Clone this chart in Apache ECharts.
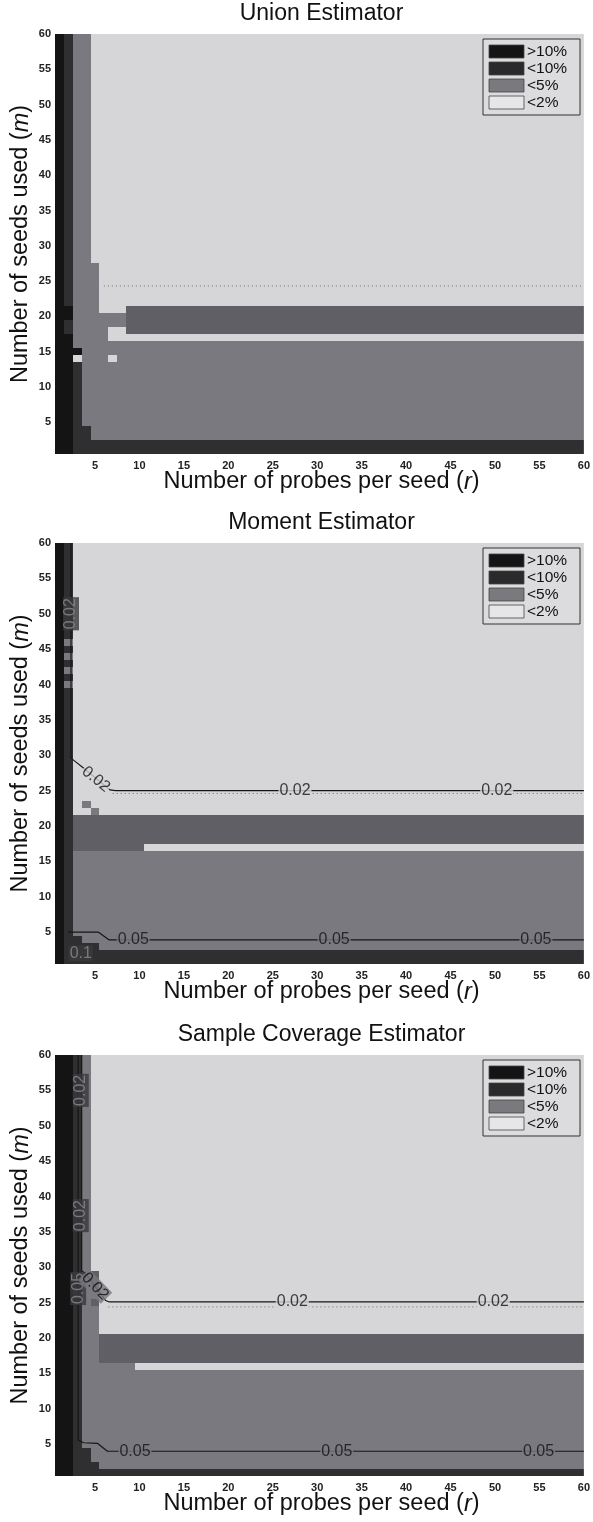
<!DOCTYPE html>
<html><head><meta charset="utf-8">
<script src="https://cdn.jsdelivr.net/npm/echarts@6/dist/echarts.min.js"></script>
<style>html,body{margin:0;padding:0;background:#fff}#c{width:593px;height:1522px}</style>
</head><body><div id="c"></div>
<script>
// ---------------- data ----------------
const titles = ['Union Estimator', 'Moment Estimator', 'Sample Coverage Estimator'];
const xAxisName = 'Number of probes per seed ({i|r})';
const yAxisName = 'Number of seeds used ({i|m})';
const tickValues = [5, 10, 15, 20, 25, 30, 35, 40, 45, 50, 55, 60];
const legendLabels = ['>10%', '<10%', '<5%', '<2%'];
const legendLevels = [4, 3, 1, 0];

// error level per cell: 0 <2%, 1 <5%, 2 <5% (darker band), 3 <10%, 4 >10%
// blocks: [m from, m to, runs "level x count" for r = 1..60]
const unionBlocks = [
  [60, 28, '4x1 3x1 1x2 0x56'],
  [27, 22, '4x1 3x1 1x3 0x55'],
  [21, 21, '4x2 1x3 0x3 2x52'],
  [20, 20, '4x2 1x6 2x52'],
  [19, 19, '4x1 3x1 1x6 2x52'],
  [18, 18, '4x1 3x1 1x4 0x2 2x52'],
  [17, 17, '4x2 1x4 0x54'],
  [16, 16, '4x2 1x58'],
  [15, 15, '4x3 1x57'],
  [14, 14, '4x2 0x1 1x3 0x1 1x53'],
  [13, 5, '4x2 3x1 1x57'],
  [4, 3, '4x2 3x2 1x56'],
  [2, 1, '4x2 3x58']
];
const momentBlocks = [
  [60, 47, '4x1 3x1 0x58'],
  [46, 46, '4x1 1x1 0x58'],
  [45, 45, '4x1 3x1 0x58'],
  [44, 44, '4x1 1x1 0x58'],
  [43, 43, '4x1 3x1 0x58'],
  [42, 42, '4x1 1x1 0x58'],
  [41, 41, '4x1 3x1 0x58'],
  [40, 40, '4x1 1x1 0x58'],
  [39, 24, '4x1 3x1 0x58'],
  [23, 23, '4x1 3x1 0x1 1x1 0x56'],
  [22, 22, '4x1 3x1 0x2 1x1 0x55'],
  [21, 18, '4x1 3x1 2x58'],
  [17, 17, '4x1 3x1 2x8 0x50'],
  [16, 5, '4x1 3x1 1x58'],
  [4, 4, '4x1 3x2 1x57'],
  [3, 3, '4x1 3x4 1x55'],
  [2, 1, '4x1 3x59']
];
const coverageBlocks = [
  [60, 30, '4x2 3x1 1x1 0x56'],
  [29, 28, '4x2 3x1 1x1 2x1 0x55'],
  [27, 26, '4x2 3x1 1x2 0x55'],
  [25, 25, '4x2 3x1 1x1 2x1 0x55'],
  [24, 21, '4x2 3x1 1x2 0x55'],
  [20, 17, '4x2 3x1 1x2 2x55'],
  [16, 16, '4x2 3x1 1x6 0x51'],
  [15, 5, '4x2 3x1 1x57'],
  [4, 3, '4x2 3x2 1x56'],
  [2, 2, '4x2 3x3 1x55'],
  [1, 1, '4x2 3x58']
];

// contour paths [r, m]
const momentContour002 = [[2.3, 60], [2.3, 29.6], [2.9, 29.0], [3.6, 28.3], [6.7, 25.1], [7.3, 25.0], [60, 25.0]];
const momentContour005 = [[2.0, 5.0], [5.4, 5.0], [6.6, 3.9], [60, 3.9]];
const coverageContour002 = [[3.5, 60], [3.5, 29.5], [4.0, 29.0], [6.2, 25.3], [6.6, 25.1], [60, 25.1]];
const coverageContour005 = [[3.1, 60], [3.1, 5.6], [3.7, 5.2], [5.3, 5.1], [6.4, 4.0], [60, 4.0]];

// dotted lines [r, m]
const unionDotted = [[6.0, 24.3], [60, 24.3]];
const momentDotted = [[7.0, 24.6], [60, 24.6]];
const coverageDotted = [[6.5, 24.4], [60, 24.4]];

// contour labels [r, m, text, angle]
const unionLabels = [];
const momentLabels = [
  [2.3, 50, '0.02', 90], [5.1, 26.6, '0.02', -39], [27.5, 25.0, '0.02', 0], [50.2, 25.0, '0.02', 0],
  [9.3, 3.9, '0.05', 0], [31.9, 3.9, '0.05', 0], [54.6, 3.9, '0.05', 0], [3.4, 2.0, '0.1', 0]
];
const coverageLabels = [
  [3.4, 55, '0.02', 90], [3.4, 37.3, '0.02', 90], [3.1, 27.0, '0.05', 90], [5.0, 27.3, '0.02', -46],
  [27.2, 25.1, '0.02', 0], [49.8, 25.1, '0.02', 0],
  [9.5, 4.0, '0.05', 0], [32.2, 4.0, '0.05', 0], [54.9, 4.0, '0.05', 0]
];

// ---------------- layout / style ----------------
const FONT = "'Liberation Sans', Arial, Helvetica, sans-serif";
const LEVEL_COLORS = ['#d6d6d8', '#79797f', '#5f5f65', '#2f2f31', '#141414'];
const LEGEND_COLORS = ['#e6e6e8', '#7a7a7e', '#5f5f65', '#2a2a2c', '#141414'];
const PANELS = [
  { top: 34, height: 420 },
  { top: 543, height: 421 },
  { top: 1055, height: 421 }
];
const LEFT = 55, WIDTH = 533;

const panelBlocks = [unionBlocks, momentBlocks, coverageBlocks];
const panelContours = [[], [momentContour002, momentContour005], [coverageContour002, coverageContour005]];
const panelDotted = [unionDotted, momentDotted, coverageDotted];
const panelLabels = [unionLabels, momentLabels, coverageLabels];

function expandRuns(blocks) {
  const runs = [];
  blocks.forEach(([mFrom, mTo, spec]) => {
    for (let m = mFrom; m >= mTo; m--) {
      let r = 1;
      spec.split(' ').forEach(tok => {
        const [lv, n] = tok.split('x').map(Number);
        runs.push([r, r + n - 1, m, lv]);
        r += n;
      });
    }
  });
  return runs;
}
function levelAt(runs, r, m) {
  const rr = Math.round(r), mm = Math.round(m);
  for (const run of runs) if (run[2] === mm && rr >= run[0] && rr <= run[1]) return run[3];
  return 0;
}

function renderCell(params, api) {
  const r0 = api.value(0), r1 = api.value(1), m = api.value(2), lv = api.value(3);
  const p0 = api.coord([r0 - 0.5, m + 0.5]);
  const p1 = api.coord([r1 + 0.5, m - 0.5]);
  const cs = params.coordSys;
  const x0 = Math.max(Math.round(p0[0]), cs.x), x1 = Math.min(Math.round(p1[0]), cs.x + cs.width);
  const y0 = Math.max(Math.round(p0[1]), cs.y), y1 = Math.min(Math.round(p1[1]), cs.y + cs.height);
  if (x1 <= x0 || y1 <= y0) return null;
  return { type: 'rect', shape: { x: x0, y: y0, width: x1 - x0, height: y1 - y0 },
    style: { fill: LEVEL_COLORS[lv], stroke: null } };
}

const grids = [], xAxes = [], yAxes = [], series = [], graphics = [];
PANELS.forEach((p, i) => {
  grids.push({ left: LEFT, width: WIDTH, top: p.top, height: p.height });
  const axisCommon = {
    gridIndex: i, type: 'value', min: 0.5, max: 60,
    axisLine: { show: false }, axisTick: { show: false }, splitLine: { show: false }
  };
  xAxes.push(Object.assign({}, axisCommon, {
    axisLabel: { customValues: tickValues, fontSize: 11, fontWeight: 'bold', color: '#222', margin: 6, fontFamily: FONT }
  }));
  yAxes.push(Object.assign({}, axisCommon, {
    axisLabel: { customValues: tickValues, fontSize: 11, fontWeight: 'bold', color: '#222', margin: 4, fontFamily: FONT }
  }));

  const runs = expandRuns(panelBlocks[i]);
  series.push({
    type: 'custom', xAxisIndex: i, yAxisIndex: i, data: runs,
    encode: { x: [0, 1], y: 2 }, renderItem: renderCell, silent: true, z: 1
  });
  series.push({
    type: 'line', xAxisIndex: i, yAxisIndex: i, data: panelDotted[i], symbol: 'none',
    lineStyle: { color: '#555', width: 1, type: [1, 3], opacity: 0.8 }, silent: true, z: 2
  });
  panelContours[i].forEach(path => {
    series.push({
      type: 'line', xAxisIndex: i, yAxisIndex: i, data: path, symbol: 'none',
      lineStyle: { color: '#161616', width: 1.2 }, silent: true, z: 3
    });
  });
  if (panelLabels[i].length) {
    series.push({
      type: 'scatter', xAxisIndex: i, yAxisIndex: i, symbolSize: 1, itemStyle: { color: 'rgba(0,0,0,0)' }, silent: true, z: 4,
      data: panelLabels[i].map(([r, m, t, a]) => {
        const lv = levelAt(runs, r, m);
        const dark = lv >= 3;
        return {
          value: [r, m],
          label: {
            show: true, position: 'inside', formatter: t, rotate: a,
            fontSize: 16, fontFamily: FONT, color: dark ? '#8a8a8e' : '#111',
            backgroundColor: dark ? '#3a3a3d' : LEVEL_COLORS[lv], padding: [0, 1]
          }
        };
      })
    });
  }

  const cx = LEFT + WIDTH / 2;
  graphics.push({ type: 'text', x: cx, y: p.top - 20, silent: true, z: 100,
    style: { text: titles[i], fontSize: 23, fontFamily: FONT, fill: '#111', align: 'center', verticalAlign: 'middle' } });
  graphics.push({ type: 'text', x: cx, y: p.top + p.height + 28, silent: true, z: 100,
    style: { text: xAxisName, fontSize: 23.5, fontFamily: FONT, fill: '#111', align: 'center', verticalAlign: 'middle',
      rich: { i: { fontStyle: 'italic', fontSize: 23.5, fontFamily: FONT, fill: '#111' } } } });
  graphics.push({ type: 'text', x: 21, y: p.top + p.height / 2, rotation: Math.PI / 2, silent: true, z: 100,
    style: { text: yAxisName, fontSize: 23.5, fontFamily: FONT, fill: '#111', align: 'center', verticalAlign: 'middle',
      rich: { i: { fontStyle: 'italic', fontSize: 23.5, fontFamily: FONT, fill: '#111' } } } });

  // legend box
  const lx = 483, ly = p.top + 5, rowH = 17;
  graphics.push({ type: 'rect', silent: true, z: 100, shape: { x: lx, y: ly, width: 97, height: 8 + rowH * 4 },
    style: { fill: '#dcdcde', stroke: '#333', lineWidth: 1 } });
  legendLabels.forEach((lab, k) => {
    const cy = ly + 4 + rowH / 2 + k * rowH;
    graphics.push({ type: 'rect', silent: true, z: 101, shape: { x: lx + 6, y: cy - 6.5, width: 35, height: 13 },
      style: { fill: LEGEND_COLORS[legendLevels[k]], stroke: '#444', lineWidth: 0.8 } });
    graphics.push({ type: 'text', silent: true, z: 101, x: lx + 44, y: cy,
      style: { text: lab, fontSize: 15.5, fontFamily: FONT, fill: '#111', align: 'left', verticalAlign: 'middle' } });
  });
});

const chart = echarts.init(document.getElementById('c'), null, { renderer: 'canvas' });
chart.setOption({
  animation: false,
  backgroundColor: '#ffffff',
  grid: grids, xAxis: xAxes, yAxis: yAxes, series: series, graphic: graphics
});
</script>
</body></html>
